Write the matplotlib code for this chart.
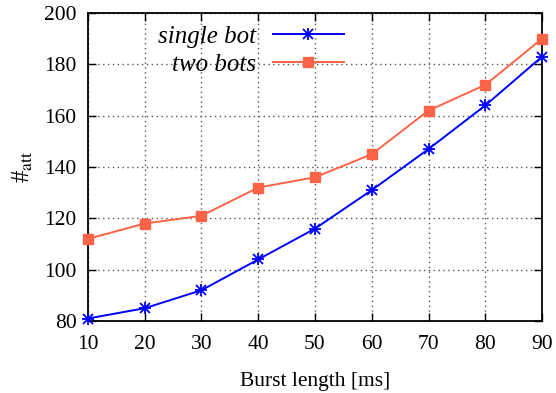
import matplotlib
matplotlib.use("Agg")
import matplotlib.pyplot as plt
from matplotlib.lines import Line2D

plt.rcParams['font.family'] = ['Liberation Serif', 'DejaVu Serif']
plt.rcParams['mathtext.fontset'] = 'stix'

burst_length = [10, 20, 30, 40, 50, 60, 70, 80, 90]
single_bot = [81, 85, 92, 104, 116, 131, 147, 164, 183]
two_bots = [112, 118, 121, 132, 136, 145, 162, 172, 190]

blue = '#0000ff'
red = '#ff6347'

fig = plt.figure(figsize=(5.56, 3.93), dpi=100)
ax = fig.add_axes([0.158, 0.183, 0.817, 0.784])

ax.plot(burst_length, single_bot, color=blue, lw=1.4, marker='x',
        markersize=7.5, markeredgewidth=1.3, clip_on=False, zorder=3)
ax.plot(burst_length, single_bot, color=blue, lw=0, marker='+',
        markersize=9, markeredgewidth=1.3, clip_on=False, zorder=3)
ax.plot(burst_length, two_bots, color=red, lw=1.4, marker='s',
        markersize=7.5, clip_on=False, zorder=3)

ax.set_xlim(10, 90)
ax.set_ylim(80, 200)
ax.set_xticks(range(10, 91, 10))
ax.set_yticks(range(80, 201, 20))
ax.tick_params(direction='in', top=True, right=True, labelsize=15.5, length=6,
               width=1, pad=8)
ax.tick_params(axis='x', pad=10)
ax.grid(True, color='#555555', linestyle=(0, (1, 2.5)), lw=1)
for s in ax.spines.values():
    s.set_linewidth(1.3)

ax.set_xlabel('Burst length [ms]', fontsize=15.5, labelpad=13)
ax.set_ylabel(r'#$_{\mathrm{att}}$', fontsize=18, labelpad=7)

h_single = (Line2D([], [], color=blue, lw=1.4, marker='x', markersize=7.5, markeredgewidth=1.3),
            Line2D([], [], color=blue, lw=0, marker='+', markersize=9, markeredgewidth=1.3))
h_two = Line2D([], [], color=red, lw=1.4, marker='s', markersize=7.5)
leg = ax.legend([h_single, h_two], ['single bot', 'two bots'], loc='upper right',
                bbox_to_anchor=(0.564, 0.96), borderaxespad=0, borderpad=0,
                frameon=False, markerfirst=False, handlelength=2.85,
                handletextpad=0.65, labelspacing=0.22,
                prop={'style': 'italic', 'size': 18})
leg._legend_box.align = 'right'
for t in leg.get_texts():
    t.set_ha('right')

fig.savefig('out.png', dpi=100)
